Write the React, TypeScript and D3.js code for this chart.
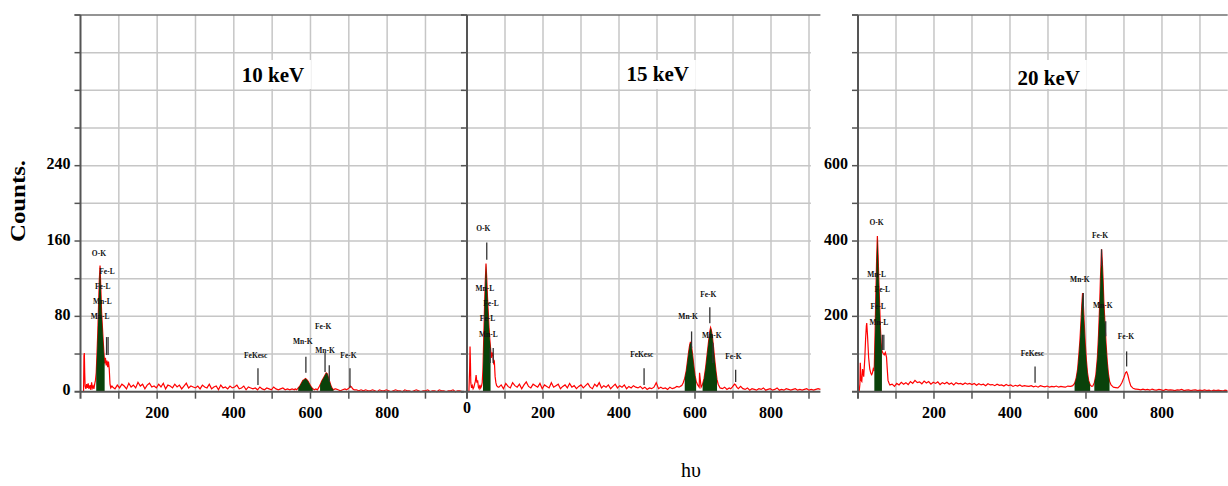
import React from 'react'
import * as d3 from 'd3'

type Pt = [number, number]
type Mark = { t: string; ch: number; c: number }

const titles = ['10 keV', '15 keV', '20 keV']
const yTickLabels = [[0, 80, 160, 240], [], [200, 400, 600]]
const xTickLabels = [[200, 400, 600, 800], [0, 200, 400, 600, 800], [200, 400, 600, 800]]

// background counts, one value every 6 channels starting at channel 84
const bg10 = [
  5, 3, 7, 4, 8, 6, 3, 9, 5, 7, 4, 10, 6, 8, 3, 7, 9, 5, 6, 4, 8, 5, 9, 3, 7, 6, 4, 8, 5, 7, 3, 6, 9, 4, 6, 5,
  4, 6, 3, 7, 5, 4, 8, 3, 5, 6, 2, 7, 4, 5, 3, 6, 4, 5, 7, 3, 4, 6, 2, 5, 4,
  3, 4, 2, 5, 3, 2, 4, 3, 2, 5, 3, 2, 3, 4, 2, 3, 2, 3, 2,
  2, 3, 2, 3, 2, 3, 2, 3, 2, 3, 2, 3, 2, 3, 2, 1, 2, 3, 2, 1, 2, 3,
  2, 3, 4, 3, 2, 1, 2, 1, 2, 1, 1, 2, 1, 0, 2, 1, 1, 2, 1, 0, 1, 2, 1, 1, 0, 2, 1, 1, 0, 1, 2, 1, 0, 1, 1, 2, 0, 1, 1, 0, 2, 1, 1, 0, 1, 1, 2, 0, 1, 1, 0
]
const bg15 = [
  6, 9, 4, 11, 7, 5, 12, 8, 6, 10, 4, 9, 13, 7, 5, 10, 8, 6, 11, 4, 9, 7, 5, 12, 6, 8, 10, 4, 7, 9, 5, 11, 6, 8, 4, 7,
  9, 5, 8, 11, 6, 4, 10, 7, 12, 5, 8, 6, 9, 4, 7, 10, 5, 8, 6, 9, 4, 7, 5, 8, 6,
  5, 7, 4, 6, 3, 5, 4, 6, 12, 4, 6, 4, 5, 3, 6, 4, 5, 7, 6,
  8, 10, 14, 20, 30, 45, 55, 40, 25, 15, 10, 8, 10, 15, 30, 50, 70, 5, 4, 6, 3, 5,
  5, 6, 8, 9, 7, 4, 3, 5, 2, 4, 3, 2, 4, 3, 5, 2, 3, 4, 2, 3, 5, 2, 3, 2, 4, 3, 2, 3, 4, 2, 3, 2, 3, 4, 2, 3, 2, 3, 4, 3
]
const bg20 = [
  16, 20, 14, 22, 18, 25, 20, 24, 19, 27, 22, 30, 24, 26, 21, 28, 23, 27, 20, 25, 22, 26, 19, 24, 21, 25, 20, 23, 18, 24, 21, 22, 19, 23, 20, 22,
  19, 22, 17, 21, 18, 20, 16, 21, 18, 19, 16, 20, 17, 18, 15, 19, 16, 18, 14, 17, 15, 18, 14, 16, 15,
  14, 16, 13, 15, 12, 16, 14, 13, 15, 12, 14, 13, 15, 12, 14, 13, 12, 15, 14,
  16, 20, 40, 90, 200, 150, 60, 25, 15, 14, 20, 40, 100, 250, 300, 200, 100, 40, 12, 11, 12, 10,
  30, 45, 50, 40, 20, 10, 7, 6, 5, 7, 5, 6, 4, 7, 5, 4, 6, 5, 3, 6, 4, 5, 4, 3, 5, 4, 6, 3, 4, 5, 3, 4, 5, 3, 4, 3, 5, 3, 4, 2, 4, 3, 4, 3, 2, 4, 3
]

// peak regions read channel by channel: [channel, counts]
const peaks10: Pt[][] = [
  [[8, 0], [9, 38], [10, 41], [11, 20], [12, 6], [14, 3], [16, 8], [18, 4], [20, 9], [22, 3], [25, 7], [27, 2], [29, 10], [31, 4], [33, 6], [35, 3], [37, 8], [39, 12],
    [41, 20], [43, 40], [45, 62], [47, 90], [49, 118], [51, 134], [53, 110], [55, 85], [57, 70], [59, 55], [61, 42], [63, 30], [65, 36], [67, 28], [69, 33],
    [71, 26], [73, 32], [75, 24], [77, 8], [79, 4], [82, 6]],
  [[560, 3], [564, 2], [568, 4], [572, 6], [576, 9], [580, 12], [584, 13], [587, 14], [590, 13], [594, 11], [598, 8], [602, 5], [606, 3], [610, 2], [614, 3]],
  [[618, 2], [621, 4], [625, 7], [629, 11], [633, 14], [637, 17], [641, 20], [644, 19], [647, 15], [650, 11], [653, 7], [656, 4], [660, 2], [664, 3]],
  [[694, 2], [698, 3], [701, 4], [704, 6], [707, 5], [710, 3], [714, 2]]
]
const peaks15: Pt[][] = [
  [[5, 0], [7, 30], [8, 60], [9, 40], [10, 12], [12, 5], [14, 8], [16, 4], [18, 6], [20, 10], [22, 14], [24, 22], [26, 12], [28, 15], [30, 6], [32, 4], [34, 9],
    [36, 5], [38, 7], [40, 12], [42, 30], [44, 70], [46, 110], [48, 145], [50, 170], [52, 150], [54, 125], [56, 105], [58, 85], [60, 70], [62, 58], [64, 45],
    [66, 52], [68, 49], [70, 38], [72, 40], [74, 20], [76, 12], [78, 8], [82, 6]],
  [[565, 8], [569, 12], [573, 18], [577, 28], [580, 40], [583, 52], [586, 62], [588, 66], [591, 60], [594, 48], [597, 34], [600, 22], [603, 14], [607, 9], [611, 6]],
  [[616, 6], [620, 10], [624, 18], [628, 32], [632, 50], [636, 68], [639, 80], [641, 85], [643, 82], [646, 72], [649, 58], [652, 42], [655, 28], [658, 16], [661, 10], [665, 6]],
  [[694, 4], [698, 6], [701, 8], [704, 10], [707, 9], [710, 6], [714, 4]]
]
const peaks20: Pt[][] = [
  [[3, 0], [5, 20], [6, 77], [8, 30], [10, 27], [12, 60], [15, 40], [18, 90], [20, 140], [22, 175], [23, 182], [25, 150], [28, 90], [31, 60], [34, 48], [36, 45],
    [38, 50], [40, 60], [42, 55], [43, 70], [45, 160], [47, 260], [49, 350], [51, 413], [53, 360], [55, 290], [57, 230], [59, 170], [61, 130], [63, 108],
    [66, 102], [69, 98], [72, 104], [75, 92], [77, 60], [79, 30], [82, 22], [84, 18]],
  [[560, 14], [565, 16], [570, 22], [574, 35], [578, 60], [581, 95], [584, 135], [587, 190], [589, 230], [591, 262], [593, 235], [595, 190], [598, 130],
    [601, 85], [604, 50], [607, 30], [611, 18], [615, 14]],
  [[618, 15], [622, 24], [626, 45], [630, 90], [633, 150], [636, 230], [638, 300], [640, 350], [641, 378], [643, 345], [645, 300], [647, 240], [650, 180],
    [653, 125], [656, 80], [659, 48], [662, 28], [666, 18], [670, 14]],
  [[684, 10], [690, 16], [695, 25], [700, 38], [704, 50], [707, 53], [710, 45], [714, 28], [718, 15], [724, 9], [730, 7]]
]

// channel ranges filled green (identified peaks)
const green10: Pt[] = [[40, 63], [568, 608], [624, 660]]
const green15: Pt[] = [[41, 63], [572, 606], [620, 660]]
const green20: Pt[] = [[43, 63], [570, 611], [620, 665]]

// peak identification labels: text, channel, counts
const labels10: Mark[] = [
  { t: 'O-K', ch: 48, c: 146 }, { t: 'Fe-L', ch: 69, c: 127 }, { t: 'Fe-L', ch: 58, c: 111 }, { t: 'Mn-L', ch: 57, c: 95 }, { t: 'Mn-L', ch: 51, c: 79 },
  { t: 'FeKesc', ch: 457, c: 38 }, { t: 'Mn-K', ch: 580, c: 52 }, { t: 'Fe-K', ch: 633, c: 68 }, { t: 'Mn-K', ch: 638, c: 43 }, { t: 'Fe-K', ch: 699, c: 38 }
]
const labels15: Mark[] = [
  { t: 'O-K', ch: 43, c: 216 }, { t: 'Mn-L', ch: 47, c: 136 }, { t: 'Fe-L', ch: 63, c: 116 }, { t: 'Fe-L', ch: 54, c: 96 }, { t: 'Mn-L', ch: 56, c: 75 },
  { t: 'FeKesc', ch: 460, c: 48 }, { t: 'Mn-K', ch: 582, c: 99 }, { t: 'Fe-K', ch: 635, c: 128 }, { t: 'Mn-K', ch: 644, c: 74 }, { t: 'Fe-K', ch: 701, c: 46 }
]
const labels20: Mark[] = [
  { t: 'O-K', ch: 49, c: 447 }, { t: 'Mn-L', ch: 49, c: 309 }, { t: 'Fe-L', ch: 64, c: 269 }, { t: 'Fe-L', ch: 53, c: 224 }, { t: 'Mn-L', ch: 55, c: 182 },
  { t: 'FeKesc', ch: 459, c: 100 }, { t: 'Mn-K', ch: 584, c: 295 }, { t: 'Fe-K', ch: 637, c: 413 }, { t: 'Mn-K', ch: 644, c: 227 }, { t: 'Fe-K', ch: 705, c: 145 }
]

// marker lines: [channel, top counts, bottom counts]
const lines10 = [[68, 58, 39], [72, 58, 39], [463, 25, 7], [588, 37, 20], [638, 41, 21], [649, 28, 11], [703, 25, 4]]
const lines15 = [[52, 198, 175], [61, 58, 38], [69, 58, 38], [466, 31, 9], [591, 80, 58], [639, 112, 91], [647, 65, 38], [707, 29, 13]]
const lines20 = [[64, 151, 111], [68, 151, 111], [466, 67, 24], [593, 262, 218], [641, 378, 333], [652, 187, 147], [707, 107, 67]]

const BG_START = 84
const BG_STEP = 6

const serif = '"Liberation Serif", "Times New Roman", serif'
const TOP = 15
const BASE = 391.7

const panels = [
  { x: [80.5, 463.8], chMax: 1000, gridEnd: 1000, yMax: 400, yStep: 40, titleY: 82, bg: bg10, peaks: peaks10, green: green10, labels: labels10, lines: lines10 },
  { x: [467, 820.4], chMax: 930, gridEnd: 905, yMax: 500, yStep: 50, titleY: 81, bg: bg15, peaks: peaks15, green: green15, labels: labels15, lines: lines15 },
  { x: [858, 1227.7], chMax: 973, gridEnd: 973, yMax: 1000, yStep: 100, titleY: 85, bg: bg20, peaks: peaks20, green: green20, labels: labels20, lines: lines20 }
]

function buildSpectrum(bg: number[], peaks: Pt[][]): Pt[] {
  const spans = peaks.map(g => [g[0][0], g[g.length - 1][0]])
  const bgPts: Pt[] = bg
    .map((v, i) => [BG_START + i * BG_STEP, v] as Pt)
    .filter(p => !spans.some(s => p[0] >= s[0] && p[0] <= s[1]))
  return [...bgPts, ...peaks.flat()].sort((a, b) => a[0] - b[0])
}

function Panel({ idx }: { idx: number }) {
  const p = panels[idx]
  const x = d3.scaleLinear().domain([0, p.chMax]).range(p.x as [number, number])
  const y = d3.scaleLinear().domain([0, p.yMax]).range([BASE, TOP])
  const spec = buildSpectrum(p.bg, p.peaks)
  const line = d3.line<Pt>().x(d => x(d[0])).y(d => y(d[1]))
  const area = d3.area<Pt>().x(d => x(d[0])).y0(BASE).y1(d => y(d[1]))
  const yGrid = d3.range(p.yStep, p.yMax, p.yStep)
  const xGrid = d3.range(100, 901, 100)
  const x0 = x(0)
  const titleX = x(502)

  return (
    <g>
      {/* grid */}
      {yGrid.map(v => (
        <line key={'h' + v} x1={x0} x2={x(p.gridEnd)} y1={y(v)} y2={y(v)} stroke="#c6c6c6" strokeWidth={1.5} />
      ))}
      {xGrid.map(v => (
        <line key={'v' + v} x1={x(v)} x2={x(v)} y1={TOP} y2={BASE} stroke="#c6c6c6" strokeWidth={1.5} />
      ))}
      <line x1={x0 - 6} x2={x(p.chMax)} y1={TOP} y2={TOP} stroke="#707070" strokeWidth={1.6} />

      {/* title */}
      <rect x={titleX - 38} y={60} width={76} height={29} fill="#fff" />
      <text x={titleX} y={p.titleY} textAnchor="middle" fontFamily={serif} fontWeight="bold" fontSize={21} fill="#000">
        {titles[idx]}
      </text>

      {/* spectrum */}
      <path d={line(spec) || ''} fill="none" stroke="#ff0000" strokeWidth={1.2} />
      {p.green.map((r, i) => (
        <path key={'g' + i} d={area(spec.filter(d => d[0] >= r[0] && d[0] <= r[1])) || ''} fill="#0a420a" />
      ))}

      {/* peak markers */}
      {p.lines.map((l, i) => (
        <line key={'m' + i} x1={x(l[0])} x2={x(l[0])} y1={y(l[1])} y2={y(l[2])} stroke="#333" strokeWidth={1.3} />
      ))}
      {p.labels.map((l, i) => (
        <text key={'l' + i} x={x(l.ch)} y={y(l.c)} textAnchor="middle" dominantBaseline="middle"
          fontFamily={serif} fontWeight="bold" fontSize={7.5} fill="#111">{l.t}</text>
      ))}

      {/* axes */}
      <line x1={x0} x2={x0} y1={TOP} y2={BASE + 7} stroke="#555" strokeWidth={2} />
      {d3.range(p.yStep, p.yMax + 1, p.yStep).map(v => (
        <line key={'yt' + v} x1={x0 - 6} x2={x0} y1={y(v)} y2={y(v)} stroke="#555" strokeWidth={1.5} />
      ))}
      <line x1={x0 - 6} x2={x(p.chMax)} y1={BASE} y2={BASE} stroke="#555" strokeWidth={2} />
      {d3.range(100, 901, 100).map(v => (
        <line key={'xt' + v} x1={x(v)} x2={x(v)} y1={BASE} y2={BASE + 7} stroke="#555" strokeWidth={1.5} />
      ))}
      {yTickLabels[idx].map(v => (
        <text key={'yl' + v} x={x0 - 10} y={y(v)} textAnchor="end" dominantBaseline="middle"
          fontFamily={serif} fontWeight="bold" fontSize={16} fill="#000">{v}</text>
      ))}
      {xTickLabels[idx].map(v => (
        <text key={'xl' + v} x={x(v)} y={v === 0 ? 413 : 418} textAnchor="middle"
          fontFamily={serif} fontWeight="bold" fontSize={16} fill="#000">{v}</text>
      ))}
    </g>
  )
}

export default function App() {
  return (
    <div style={{ position: 'absolute', left: 0, top: 0 }}>
      <svg width={1228} height={486} style={{ display: 'block', background: '#fff' }}>
        {panels.map((_, i) => <Panel key={i} idx={i} />)}
        <text transform="translate(25,201) rotate(-90)" textAnchor="middle" fontFamily={serif} fontWeight="bold"
          fontSize={20} textLength={82} lengthAdjust="spacingAndGlyphs" fill="#000">Counts.</text>
        <text x={691} y={477} textAnchor="middle" fontFamily={serif} fontSize={20} fill="#000">hυ</text>
      </svg>
    </div>
  )
}
